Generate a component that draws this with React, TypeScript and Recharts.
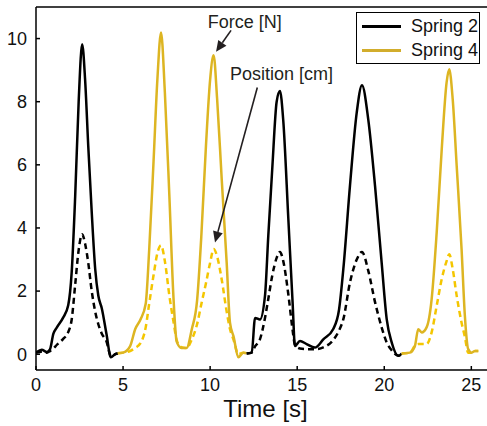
import React from 'react';
import {
  LineChart,
  Line,
  XAxis,
  YAxis,
  Legend,
  ReferenceLine,
  ReferenceDot,
} from 'recharts';

// Spring 2, first run
const s2aTime = [0, 0.33, 0.62, 0.8, 1.0, 1.2, 1.55, 1.85, 2.05, 2.25, 2.45, 2.65, 2.82, 3.0, 3.2, 3.4, 3.58, 3.78, 4.05, 4.3, 4.55, 4.7];
const s2aForce = [0.05, 0.14, 0.07, 0.15, 0.65, 0.85, 1.15, 1.55, 2.6, 5.0, 8.0, 9.82, 8.7, 6.6, 4.5, 2.7, 1.85, 1.45, 0.63, -0.1, 0.0, 0.02];
const s2aPos = [0.05, 0.08, 0.05, 0.1, 0.18, 0.3, 0.48, 0.7, 1.1, 2.2, 3.3, 3.8, 3.5, 2.9, 2.0, 1.35, 0.95, 0.65, 0.4, -0.05, 0.0, 0.02];

// Spring 4, first run
const s4aTime = [4.7, 5.0, 5.4, 5.7, 6.0, 6.3, 6.5, 6.75, 6.97, 7.18, 7.4, 7.66, 7.89, 8.08, 8.35, 8.65, 8.95, 9.25, 9.5, 9.76, 10.0, 10.2, 10.4, 10.67, 10.95, 11.14, 11.35, 11.62, 11.9, 12.1];
const s4aForce = [0.03, 0.05, 0.25, 0.8, 1.1, 1.6, 3.3, 6.1, 8.7, 10.19, 8.3, 5.0, 1.85, 0.4, 0.2, 0.2, 0.8, 1.7, 3.8, 6.6, 8.7, 9.47, 8.1, 5.5, 2.9, 1.0, 0.55, -0.1, 0.05, 0.03];
const s4aPos = [0.03, 0.05, 0.1, 0.2, 0.35, 0.85, 1.6, 2.5, 3.2, 3.45, 2.95, 1.85, 1.05, 0.45, 0.22, 0.2, 0.47, 0.95, 1.6, 2.25, 2.9, 3.33, 3.1, 2.35, 1.35, 0.8, 0.45, 0.0, 0.05, 0.03];

// Spring 2, second run
const s2bTime = [12.1, 12.39, 12.58, 12.86, 13.15, 13.34, 13.57, 13.82, 14.01, 14.2, 14.49, 14.74, 14.87, 15.16, 15.54, 16.02, 16.5, 17.07, 17.4, 17.65, 18.03, 18.42, 18.72, 19.08, 19.47, 19.85, 20.14, 20.43, 20.81, 21.0];
const s2bForce = [0.02, 0.05, 1.15, 1.1, 1.85, 3.75, 5.9, 8.0, 8.34, 7.4, 4.3, 1.6, 0.26, 0.42, 0.32, 0.21, 0.47, 0.8, 1.4, 2.7, 5.33, 7.66, 8.52, 7.44, 5.33, 2.9, 1.11, 0.37, -0.05, 0.02];
const s2bPos = [0.02, 0.05, 0.25, 0.47, 1.15, 1.75, 2.5, 3.05, 3.24, 2.95, 1.9, 0.75, 0.3, 0.18, 0.16, 0.16, 0.22, 0.45, 0.75, 1.11, 2.27, 3.0, 3.24, 2.65, 1.65, 0.85, 0.37, 0.12, -0.05, 0.02];

// Spring 4, second run
const s4bTime = [21.0, 21.47, 21.76, 21.95, 22.15, 22.43, 22.72, 23.01, 23.3, 23.58, 23.73, 23.93, 24.16, 24.44, 24.63, 24.82, 25.02, 25.21, 25.4];
const s4bForce = [0.02, 0.05, 0.26, 0.79, 0.69, 0.85, 1.74, 3.85, 6.49, 8.61, 9.03, 8.08, 5.96, 3.33, 1.21, 0.16, 0.05, 0.1, 0.1];
const s4bPos = [0.02, 0.05, 0.26, 0.32, 0.32, 0.32, 0.69, 1.53, 2.38, 2.95, 3.17, 2.7, 1.85, 1.0, 0.55, 0.05, 0.05, 0.1, 0.1];

const xTicks = [0, 5, 10, 15, 20, 25];
const yTicks = [0, 2, 4, 6, 8, 10];

const legendItems = [
  { name: 'Spring 2', color: '#000000' },
  { name: 'Spring 4', color: '#D2AD2C' },
];

const SPRING2 = '#000000';
const SPRING4 = '#DDB522';
const SPRING4_POS = '#F4C600';
const INK = '#231f20';

const toRows = (time: number[], force: number[], pos: number[]) =>
  time.map((t, i) => ({ t, f: force[i], p: pos[i] }));

const s2a = toRows(s2aTime, s2aForce, s2aPos);
const s4a = toRows(s4aTime, s4aForce, s4aPos);
const s2b = toRows(s2bTime, s2bForce, s2bPos);
const s4b = toRows(s4bTime, s4bForce, s4bPos);

const Arrow = (props: any) => {
  const { x1, y1, x2, y2 } = props;
  const dx = x2 - x1;
  const dy = y2 - y1;
  const len = Math.hypot(dx, dy);
  const ux = dx / len;
  const uy = dy / len;
  const hl = 11;
  const hw = 5;
  const bx = x2 - ux * hl;
  const by = y2 - uy * hl;
  const pts = `${x2},${y2} ${bx - uy * hw},${by + ux * hw} ${bx + uy * hw},${by - ux * hw}`;
  return (
    <g>
      <line x1={x1} y1={y1} x2={bx} y2={by} stroke={INK} strokeWidth={1.6} />
      <polygon points={pts} fill={INK} />
    </g>
  );
};

const noteText = (text: string) => (props: any) => (
  <text x={props.cx} y={props.cy} fontSize={18} fill={INK}>
    {text}
  </text>
);

const LegendBox = () => (
  <div
    style={{
      boxSizing: 'border-box',
      width: 124,
      height: 52,
      border: '1.5px solid #000',
      background: '#fff',
      position: 'relative',
    }}
  >
    {legendItems.map((item, i) => (
      <div
        key={item.name}
        style={{ position: 'absolute', left: 5, top: 2 + i * 24, height: 22, display: 'flex', alignItems: 'center', whiteSpace: 'nowrap' }}
      >
        <div style={{ width: 39, height: 3, background: item.color, flex: 'none' }} />
        <span style={{ marginLeft: 10, fontSize: 18, color: '#111', lineHeight: '22px' }}>{item.name}</span>
      </div>
    ))}
  </div>
);

export default function App() {
  const solid = { type: 'monotone' as const, dot: false, strokeWidth: 2.5, isAnimationActive: false, dataKey: 'f' };
  const dashed = { type: 'monotone' as const, dot: false, strokeWidth: 2.5, strokeDasharray: '6 4', isAnimationActive: false, dataKey: 'p' };

  return (
    <div style={{ position: 'absolute', left: 0, top: 0, width: 487, height: 426, background: '#fff', fontFamily: '"Liberation Sans", Arial, sans-serif' }}>
      <LineChart width={487} height={426} margin={{ top: 7, right: 0, bottom: 0, left: 0 }}>
        <XAxis
          type="number"
          dataKey="t"
          domain={[0, 25.9]}
          ticks={xTicks}
          allowDataOverflow
          height={56}
          tickSize={-4}
          tickMargin={12}
          stroke="#000"
          strokeWidth={1.5}
          tick={{ fill: '#111', fontSize: 18 }}
          label={{ value: 'Time [s]', position: 'insideBottom', offset: 9, dx: 4, fontSize: 24, fill: '#111' }}
        />
        <YAxis
          type="number"
          domain={[-0.5, 11]}
          ticks={yTicks}
          allowDataOverflow
          width={36}
          tickSize={-4}
          tickMargin={13}
          stroke="#000"
          strokeWidth={1.5}
          tick={{ fill: '#111', fontSize: 18 }}
        />
        <ReferenceLine y={11} stroke="#000" strokeWidth={1.5} />

        <Line data={s2a} {...dashed} stroke={SPRING2} name="Spring 2 position" />
        <Line data={s2a} {...solid} stroke={SPRING2} name="Spring 2" />
        <Line data={s4a} {...dashed} stroke={SPRING4_POS} name="Spring 4 position" />
        <Line data={s4a} {...solid} stroke={SPRING4} name="Spring 4" />
        <Line data={s2b} {...dashed} stroke={SPRING2} name="Spring 2 position b" />
        <Line data={s2b} {...solid} stroke={SPRING2} name="Spring 2 b" />
        <Line data={s4b} {...dashed} stroke={SPRING4_POS} name="Spring 4 position b" />
        <Line data={s4b} {...solid} stroke={SPRING4} name="Spring 4 b" />

        <ReferenceLine segment={[{ x: 11.2, y: 10.26 }, { x: 10.34, y: 9.58 }]} shape={Arrow} />
        <ReferenceLine segment={[{ x: 12.71, y: 8.45 }, { x: 10.28, y: 3.54 }]} shape={Arrow} />
        <ReferenceDot x={9.86} y={10.33} r={1} shape={noteText('Force [N]')} />
        <ReferenceDot x={11.14} y={8.69} r={1} shape={noteText('Position [cm]')} />

        <Legend
          layout="horizontal"
          verticalAlign="middle"
          align="center"
          content={() => <LegendBox />}
          wrapperStyle={{ left: 356, top: 12, width: 124, height: 52 }}
        />
      </LineChart>
    </div>
  );
}
